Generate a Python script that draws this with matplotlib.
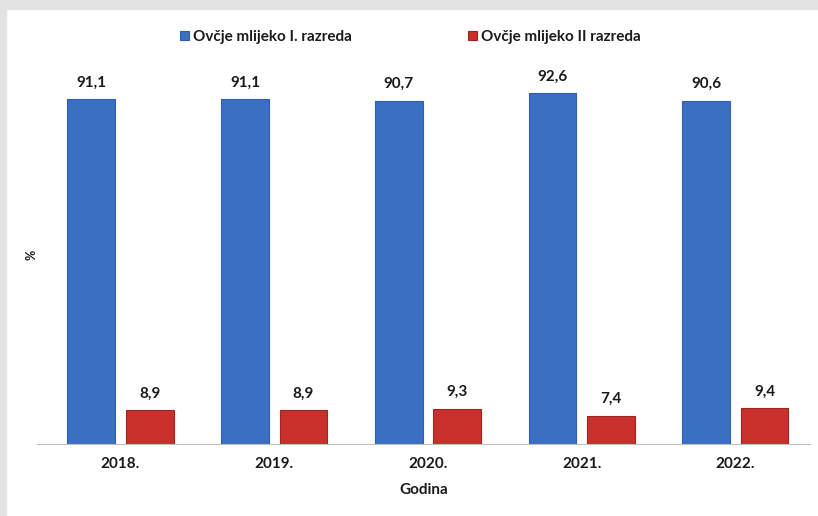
import matplotlib
matplotlib.use("Agg")
import matplotlib.pyplot as plt
import numpy as np
from matplotlib.patches import Rectangle

years = ["2018.", "2019.", "2020.", "2021.", "2022."]
class1 = [91.1, 91.1, 90.7, 92.6, 90.6]
class2 = [8.9, 8.9, 9.3, 7.4, 9.4]
series_names = ["Ovčje mlijeko I. razreda", "Ovčje mlijeko II razreda"]

plt.rcParams['font.family'] = ['Lato', 'DejaVu Sans']

fig = plt.figure(figsize=(8.18, 5.16), dpi=100)
fig.patch.set_facecolor("white")
# gray frame on top and left
fig.patches.append(Rectangle((0, 1 - 9/516), 1, 9/516, transform=fig.transFigure,
                             color="#e3e3e3", zorder=0))
fig.patches.append(Rectangle((0, 0), 6/818, 1, transform=fig.transFigure,
                             color="#e3e3e3", zorder=0))

ax = fig.add_axes([37/818, 72/516, 773/818, 382/516])
ax.set_facecolor("white")
x = np.arange(len(years))
w = 0.31
off = 0.19
b1 = ax.bar(x - off, class1, w, color="#3b6fc2", edgecolor="#2f5ea8", linewidth=0.8,
            label=series_names[0], zorder=2)
b2 = ax.bar(x + off, class2, w, color="#c9302c", edgecolor="#9e2422", linewidth=0.8,
            label=series_names[1], zorder=2)

for xi, v in zip(x - off, class1):
    ax.annotate(f"{v:.1f}".replace(".", ","), (xi, v), xytext=(0, 7),
                textcoords="offset points", ha="center", va="bottom",
                fontsize=11, fontweight="bold", color="#1a1a1a")
for xi, v in zip(x + off, class2):
    ax.annotate(f"{v:.1f}".replace(".", ","), (xi, v), xytext=(0, 7),
                textcoords="offset points", ha="center", va="bottom",
                fontsize=11, fontweight="bold", color="#1a1a1a")

ax.set_xlim(-0.543, 4.485)
ax.set_ylim(0, 100.9)
ax.set_xticks(x)
ax.set_xticklabels(years, fontsize=11, fontweight="bold", color="#1a1a1a")
ax.tick_params(axis="x", length=0, pad=9)
ax.set_yticks([])
for s in ["top", "right", "left"]:
    ax.spines[s].set_visible(False)
ax.spines["bottom"].set_color("#bfbfbf")
ax.spines["bottom"].set_linewidth(0.8)

ax.set_xlabel("Godina", fontsize=11, fontweight="bold", color="#1a1a1a", labelpad=9)
fig.text(31/818, 1 - 255/516, "%", rotation=90, ha="center", va="center",
         fontsize=9, fontweight="bold", color="#1a1a1a")

leg = fig.legend(handles=[b1, b2], labels=series_names, loc="center",
                 bbox_to_anchor=(410/818, 1 - 37/516), ncol=2, frameon=False,
                 handlelength=0.6, handleheight=0.6, handletextpad=0.25,
                 columnspacing=7.6,
                 prop={"family": ["Lato", "DejaVu Sans"], "weight": "bold", "size": 11})
for t in leg.get_texts():
    t.set_color("#1a1a1a")

fig.savefig("out.png", dpi=100)
